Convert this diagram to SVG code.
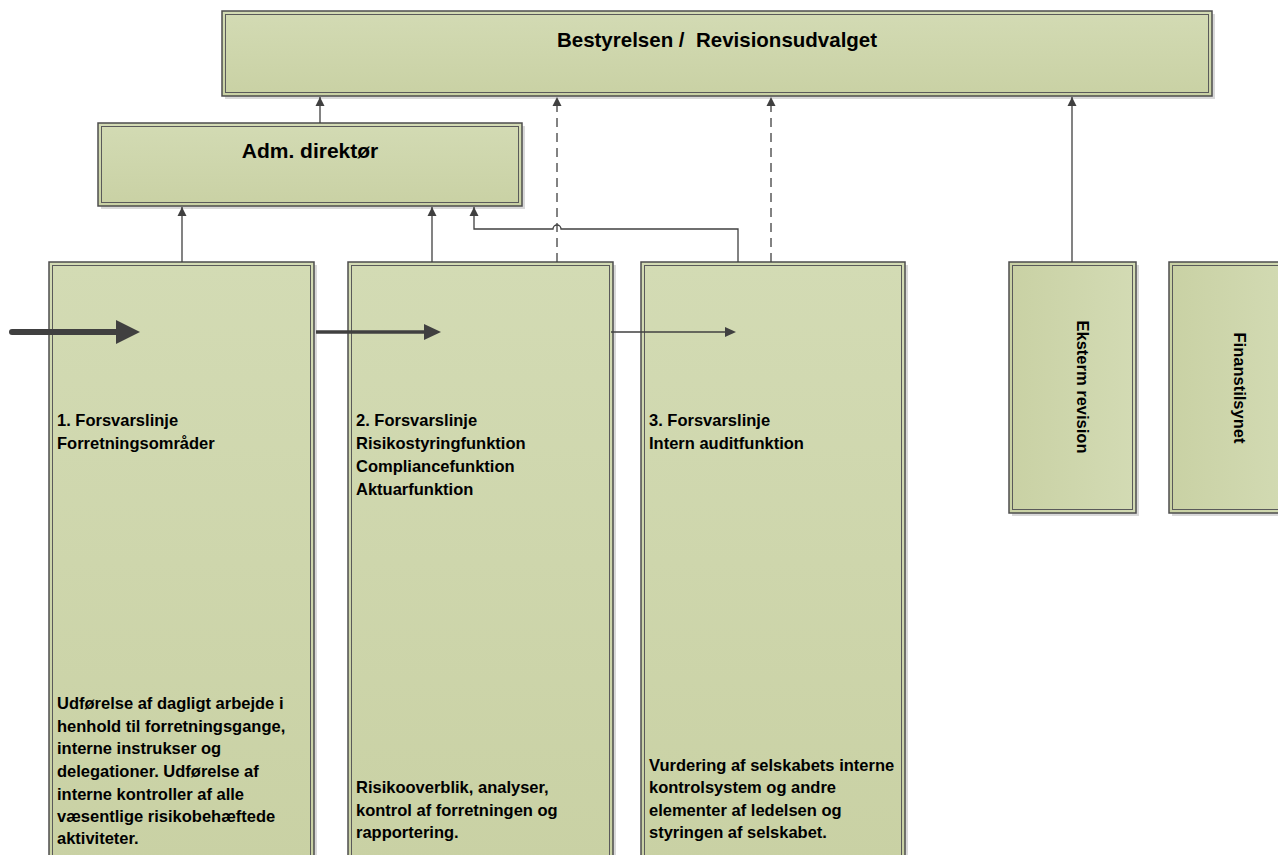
<svg xmlns="http://www.w3.org/2000/svg" width="1278" height="855" viewBox="0 0 1278 855">
<defs>
<linearGradient id="g" x1="0" y1="0" x2="0" y2="1">
<stop offset="0" stop-color="#d3dbb4"/>
<stop offset="1" stop-color="#c9d1a4"/>
</linearGradient>
<linearGradient id="gh" x1="0" y1="0" x2="1" y2="0">
<stop offset="0" stop-color="#c9d1a4"/>
<stop offset="1" stop-color="#d3dbb4"/>
</linearGradient>
<marker id="ah" markerUnits="userSpaceOnUse" markerWidth="10" markerHeight="10" refX="9" refY="5" orient="auto">
<path d="M0,0.5 L9,5 L0,9.5 Z" fill="#404040"/>
</marker>
<marker id="big" markerUnits="userSpaceOnUse" markerWidth="26" markerHeight="26" refX="1" refY="12" orient="auto">
<path d="M0,0 L24,12 L0,24 Z" fill="#404040"/>
</marker>
<marker id="mid" markerUnits="userSpaceOnUse" markerWidth="20" markerHeight="20" refX="1" refY="9" orient="auto">
<path d="M0,1 L17,9 L0,17 Z" fill="#404040"/>
</marker>
<marker id="sm" markerUnits="userSpaceOnUse" markerWidth="14" markerHeight="14" refX="1" refY="6" orient="auto">
<path d="M0,1 L11,6 L0,11 Z" fill="#404040"/>
</marker>
</defs>
<style>
.shadow{fill:#d9d9d9;}
.outer{fill:url(#g);stroke:#4d4d4d;stroke-width:1.5;}
.outerh{fill:url(#gh);stroke:#4d4d4d;stroke-width:1.5;}
.inner{fill:none;stroke:#5a5a5a;stroke-width:1;}
.t{font-family:"Liberation Sans",Arial,sans-serif;font-weight:bold;fill:#000;white-space:pre;}
.title{font-size:20.5px;text-anchor:middle;}
.body{font-size:16.5px;}
.c{fill:none;stroke:#404040;stroke-width:1.3;}
.d{stroke-dasharray:9,6;}
</style>
<rect width="1278" height="855" fill="#fff"/>

<g id="bestyrelsen">
<rect class="shadow" x="225" y="14" width="990" height="85"/>
<rect class="outer" x="222" y="11" width="990" height="85"/>
<rect class="inner" x="225.5" y="14.5" width="983" height="78"/>
<text class="t title" x="717" y="47" xml:space="preserve">Bestyrelsen /  Revisionsudvalget</text>
</g>

<g id="adm">
<rect class="shadow" x="101" y="126" width="424" height="83"/>
<rect class="outer" x="98" y="123" width="424" height="83"/>
<rect class="inner" x="101.5" y="126.5" width="417" height="76"/>
<text class="t title" x="310" y="158" style="font-size:21px">Adm. direktør</text>
</g>

<g id="linje1">
<rect class="shadow" x="52" y="265" width="265" height="600"/>
<rect class="outer" x="49" y="262" width="265" height="600"/>
<rect class="inner" x="52.5" y="265.5" width="258" height="600"/>
<text class="t body" x="57" y="426">1. Forsvarslinje</text>
<text class="t body" x="57" y="449">Forretningsområder</text>
<text class="t body" x="57" y="709">Udførelse af dagligt arbejde i</text>
<text class="t body" x="57" y="732">henhold til forretningsgange,</text>
<text class="t body" x="57" y="754">interne instrukser og</text>
<text class="t body" x="57" y="777">delegationer. Udførelse af</text>
<text class="t body" x="57" y="800">interne kontroller af alle</text>
<text class="t body" x="57" y="822">væsentlige risikobehæftede</text>
<text class="t body" x="57" y="844">aktiviteter.</text>
</g>

<g id="linje2">
<rect class="shadow" x="351" y="265" width="265" height="600"/>
<rect class="outer" x="348" y="262" width="265" height="600"/>
<rect class="inner" x="351.5" y="265.5" width="258" height="600"/>
<text class="t body" x="356" y="426">2. Forsvarslinje</text>
<text class="t body" x="356" y="449">Risikostyringfunktion</text>
<text class="t body" x="356" y="472">Compliancefunktion</text>
<text class="t body" x="356" y="495">Aktuarfunktion</text>
<text class="t body" x="356" y="793">Risikooverblik, analyser,</text>
<text class="t body" x="356" y="816">kontrol af forretningen og</text>
<text class="t body" x="356" y="838">rapportering.</text>
</g>

<g id="linje3">
<rect class="shadow" x="644" y="265" width="264" height="600"/>
<rect class="outer" x="641" y="262" width="264" height="600"/>
<rect class="inner" x="644.5" y="265.5" width="257" height="600"/>
<text class="t body" x="649" y="426">3. Forsvarslinje</text>
<text class="t body" x="649" y="449">Intern auditfunktion</text>
<text class="t body" x="649" y="771">Vurdering af selskabets interne</text>
<text class="t body" x="649" y="793">kontrolsystem og andre</text>
<text class="t body" x="649" y="816">elementer af ledelsen og</text>
<text class="t body" x="649" y="838">styringen af selskabet.</text>
</g>

<g id="ekstern">
<rect class="shadow" x="1012" y="265" width="127" height="251"/>
<rect class="outerh" x="1009" y="262" width="127" height="251"/>
<rect class="inner" x="1012.5" y="265.5" width="120" height="244"/>
<text class="t body" transform="translate(1077,387) rotate(90)" text-anchor="middle">Eksterm revision</text>
</g>

<g id="finanstilsynet">
<rect class="shadow" x="1172" y="265" width="127" height="251"/>
<rect class="outerh" x="1169" y="262" width="127" height="251"/>
<rect class="inner" x="1172.5" y="265.5" width="120" height="244"/>
<text class="t body" transform="translate(1234,388) rotate(90)" text-anchor="middle">Finanstilsynet</text>
</g>

<g id="connectors">
<line class="c" x1="320" y1="123" x2="320" y2="97" marker-end="url(#ah)"/>
<line class="c d" x1="557" y1="262" x2="557" y2="97" marker-end="url(#ah)"/>
<line class="c d" x1="771" y1="262" x2="771" y2="97" marker-end="url(#ah)"/>
<line class="c" x1="1072" y1="262" x2="1072" y2="97" marker-end="url(#ah)"/>
<line class="c" x1="182" y1="262" x2="182" y2="207" marker-end="url(#ah)"/>
<line class="c" x1="432" y1="262" x2="432" y2="207" marker-end="url(#ah)"/>
<path class="c" d="M738,262 L738,229 L561,229 A4,4 0 0 0 553,229 L474,229 L474,207" marker-end="url(#ah)"/>
<line x1="12" y1="332" x2="117" y2="332" stroke="#404040" stroke-width="6" stroke-linecap="round" marker-end="url(#big)"/>
<line x1="316" y1="332" x2="425" y2="332" stroke="#404040" stroke-width="3.5" marker-end="url(#mid)"/>
<line x1="611" y1="332" x2="726" y2="332" stroke="#404040" stroke-width="1.5" marker-end="url(#sm)"/>
</g>
</svg>
